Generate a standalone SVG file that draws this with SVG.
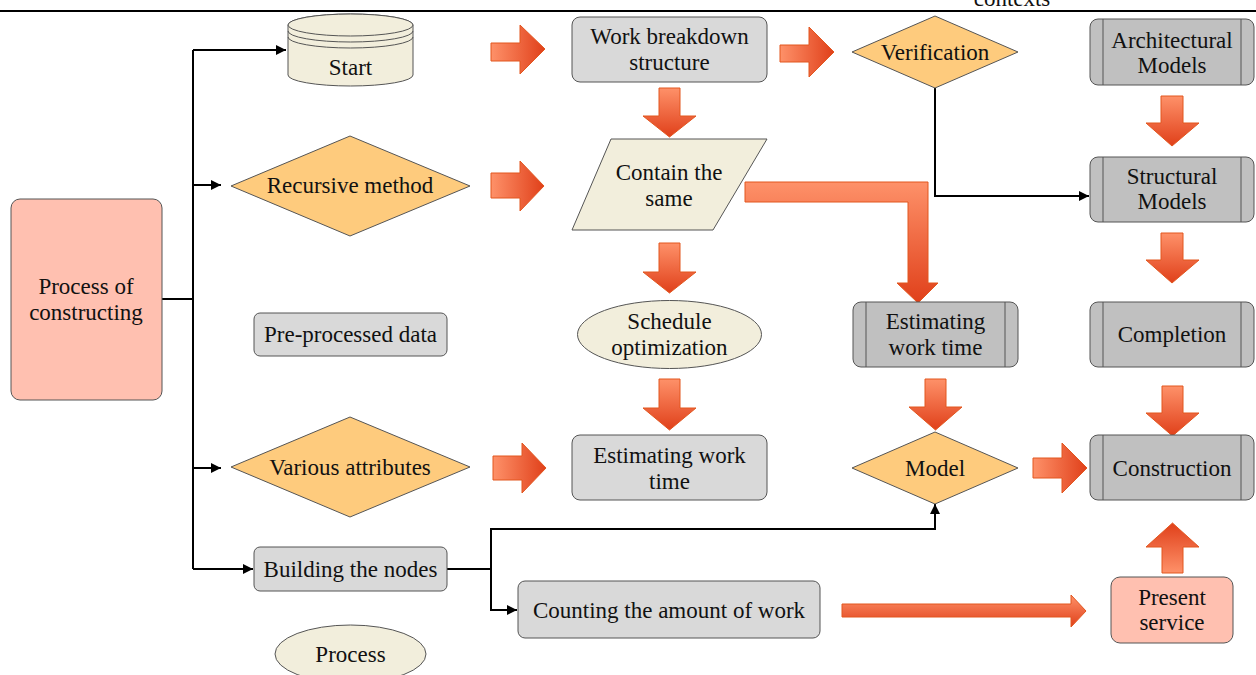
<svg xmlns="http://www.w3.org/2000/svg" width="1256" height="675" viewBox="0 0 1256 675">
<defs>
<linearGradient id="gR" x1="0" y1="0" x2="1" y2="0"><stop offset="0" stop-color="#fe9169"/><stop offset="1" stop-color="#e0401a"/></linearGradient>
<linearGradient id="gD" x1="0" y1="0" x2="0" y2="1"><stop offset="0" stop-color="#fe9169"/><stop offset="1" stop-color="#e0401a"/></linearGradient>
<linearGradient id="gU" x1="0" y1="1" x2="0" y2="0"><stop offset="0" stop-color="#fe9169"/><stop offset="1" stop-color="#e0401a"/></linearGradient>
<marker id="ah" viewBox="0 0 10 10" refX="10" refY="5" markerWidth="10" markerHeight="10" markerUnits="userSpaceOnUse" orient="auto"><path d="M0,0 L10,5 L0,10 Z" fill="#000"/></marker>
</defs>
<style>
text{font-family:"Liberation Serif","Times New Roman",serif;font-size:23px;fill:#111;text-anchor:middle;dominant-baseline:central}
.g1{fill:#d9d9d9;stroke:#555;stroke-width:1}
.g2{fill:#c0c0c0;stroke:#555;stroke-width:1}
.dia{fill:#fecb7d;stroke:#555;stroke-width:1;stroke-linejoin:round}
.bei{fill:#f2eedc;stroke:#555;stroke-width:1}
.sal{fill:#ffc0b0;stroke:#555;stroke-width:1}
.bar{stroke:#555;stroke-width:1}
.con{fill:none;stroke:#000;stroke-width:2}
.ar{stroke:#e2561f;stroke-width:1}
</style>
<line x1="0" y1="11" x2="1256" y2="11" stroke="#000" stroke-width="2"/>
<text x="1012" y="-2">contexts</text>

<g id="connectors">
<polyline class="con" points="162,299 193,299"/>
<line class="con" x1="193" y1="50" x2="193" y2="569"/>
<line class="con" x1="193" y1="50" x2="286" y2="50" marker-end="url(#ah)"/>
<line class="con" x1="193" y1="185" x2="221" y2="185" marker-end="url(#ah)"/>
<line class="con" x1="193" y1="468" x2="221" y2="468" marker-end="url(#ah)"/>
<line class="con" x1="193" y1="569" x2="253" y2="569" marker-end="url(#ah)"/>
<polyline class="con" points="935,88 935,196 1089,196" marker-end="url(#ah)"/>
<polyline class="con" points="447,569 491,569 491,529 935,529 935,504" marker-end="url(#ah)"/>
<polyline class="con" points="491,569 491,610 517,610" marker-end="url(#ah)"/>
<path class="ar" fill="url(#gR)" d="M491,43 L520,43 L520,25 L545,49 L520,74 L520,61 L491,61 Z"/>
<path class="ar" fill="url(#gR)" d="M780,45 L809,45 L809,27 L834,52 L809,77 L809,62 L780,62 Z"/>
<path class="ar" fill="url(#gR)" d="M491,173 L520,173 L520,161 L544,186 L520,211 L520,198 L491,198 Z"/>
<path class="ar" fill="url(#gR)" d="M493,456 L522,456 L522,443 L546,468 L522,493 L522,480 L493,480 Z"/>
<path class="ar" fill="url(#gR)" d="M1033,458 L1062,458 L1062,443 L1087,468 L1062,493 L1062,478 L1033,478 Z"/>
<path class="ar" fill="url(#gD)" d="M842,604 L1071,604 L1071,595 L1086,611 L1071,627 L1071,617 L842,617 Z"/>
<path class="ar" fill="url(#gD)" d="M659,88 L680,88 L680,116 L696,116 L669.5,137 L643,116 L659,116 Z"/>
<path class="ar" fill="url(#gD)" d="M659,243 L680,243 L680,272 L696,272 L669.5,293 L643,272 L659,272 Z"/>
<path class="ar" fill="url(#gD)" d="M659,379 L680,379 L680,408 L696,408 L669.5,430 L643,408 L659,408 Z"/>
<path class="ar" fill="url(#gD)" d="M925,379 L946,379 L946,407 L962,407 L935.5,430 L909,407 L925,407 Z"/>
<path class="ar" fill="url(#gD)" d="M1161,96 L1183,96 L1183,123 L1199,123 L1172,146 L1146,123 L1161,123 Z"/>
<path class="ar" fill="url(#gD)" d="M1161,233 L1183,233 L1183,260 L1199,260 L1172,283 L1146,260 L1161,260 Z"/>
<path class="ar" fill="url(#gD)" d="M1162,386 L1183,386 L1183,413 L1199,413 L1172.5,436 L1146,413 L1162,413 Z"/>
<path class="ar" fill="url(#gU)" d="M1162,573 L1183,573 L1183,547 L1199,547 L1172.5,523 L1146,547 L1162,547 Z"/>
<path class="ar" fill="url(#gD)" d="M745,182 L928,182 L928,283 L938,283 L918,303 L897,283 L908,283 L908,202 L745,202 Z"/>
</g>

<g id="process-of-constructing"><rect class="sal" x="11" y="199" width="151" height="201" rx="9"/><text x="86" y="286">Process of</text><text x="86" y="312">constructing</text></g>

<g id="start"><path class="bei" d="M288,25 L288,75 A62.5,11 0 0 0 413,75 L413,25 A62.5,11 0 0 0 288,25 Z"/><ellipse class="bei" cx="350.5" cy="25" rx="62.5" ry="11"/><path class="bar" fill="none" d="M288,31 A62.5,11 0 0 0 413,31 M288,37 A62.5,11 0 0 0 413,37"/><text x="350.5" y="67">Start</text></g>

<g id="work-breakdown"><rect class="g1" x="572" y="17" width="195" height="65" rx="8"/><text x="669.5" y="36">Work breakdown</text><text x="669.5" y="62">structure</text></g>

<g id="verification"><path class="dia" d="M852,52 L935,16 L1018,52 L935,88 Z"/><text x="935" y="52">Verification</text></g>

<g id="architectural-models"><rect class="g2" x="1090" y="19" width="164" height="66" rx="8"/><line class="bar" x1="1103" y1="19" x2="1103" y2="85"/><line class="bar" x1="1241" y1="19" x2="1241" y2="85"/><text x="1172" y="40">Architectural</text><text x="1172" y="65">Models</text></g>

<g id="recursive-method"><path class="dia" d="M231,186 L350,136 L470,186 L350,236 Z"/><text x="350" y="185">Recursive method</text></g>

<g id="contain-the-same"><path class="bei" d="M611,139 L767,139 L713,230 L572,230 Z"/><text x="669" y="172">Contain the</text><text x="669" y="198">same</text></g>

<g id="structural-models"><rect class="g2" x="1090" y="157" width="164" height="65" rx="8"/><line class="bar" x1="1103" y1="157" x2="1103" y2="222"/><line class="bar" x1="1241" y1="157" x2="1241" y2="222"/><text x="1172" y="176">Structural</text><text x="1172" y="201">Models</text></g>

<g id="pre-processed-data"><rect class="g1" x="254" y="313" width="193" height="43" rx="6"/><text x="350.5" y="334">Pre-processed data</text></g>

<g id="schedule-optimization"><ellipse class="bei" cx="669.5" cy="334.5" rx="92" ry="34"/><text x="669.5" y="321">Schedule</text><text x="669.5" y="347">optimization</text></g>

<g id="estimating-work-time-2"><rect class="g2" x="853" y="302" width="165" height="65" rx="8"/><line class="bar" x1="866" y1="302" x2="866" y2="367"/><line class="bar" x1="1005" y1="302" x2="1005" y2="367"/><text x="935.5" y="321">Estimating</text><text x="935.5" y="347">work time</text></g>

<g id="completion"><rect class="g2" x="1090" y="302" width="164" height="65" rx="8"/><line class="bar" x1="1103" y1="302" x2="1103" y2="367"/><line class="bar" x1="1241" y1="302" x2="1241" y2="367"/><text x="1172" y="334">Completion</text></g>

<g id="various-attributes"><path class="dia" d="M231,467 L350,417 L470,467 L350,517 Z"/><text x="350" y="467">Various attributes</text></g>

<g id="estimating-work-time"><rect class="g1" x="572" y="435" width="195" height="65" rx="8"/><text x="669.5" y="455">Estimating work</text><text x="669.5" y="481">time</text></g>

<g id="model"><path class="dia" d="M852,468 L935,432 L1018,468 L935,504 Z"/><text x="935" y="468">Model</text></g>

<g id="construction"><rect class="g2" x="1090" y="435" width="164" height="65" rx="8"/><line class="bar" x1="1103" y1="435" x2="1103" y2="500"/><line class="bar" x1="1241" y1="435" x2="1241" y2="500"/><text x="1172" y="468">Construction</text></g>

<g id="building-the-nodes"><rect class="g1" x="254" y="547" width="193" height="44" rx="6"/><text x="350.5" y="569">Building the nodes</text></g>

<g id="counting-the-amount-of-work"><rect class="g1" x="518" y="581" width="302" height="57" rx="7"/><text x="669" y="610">Counting the amount of work</text></g>

<g id="present-service"><rect class="sal" x="1111" y="577" width="122" height="66" rx="9"/><text x="1172" y="597">Present</text><text x="1172" y="622">service</text></g>

<g id="process"><ellipse class="bei" cx="350.5" cy="654" rx="75.5" ry="29"/><text x="350.5" y="654">Process</text></g>
</svg>
